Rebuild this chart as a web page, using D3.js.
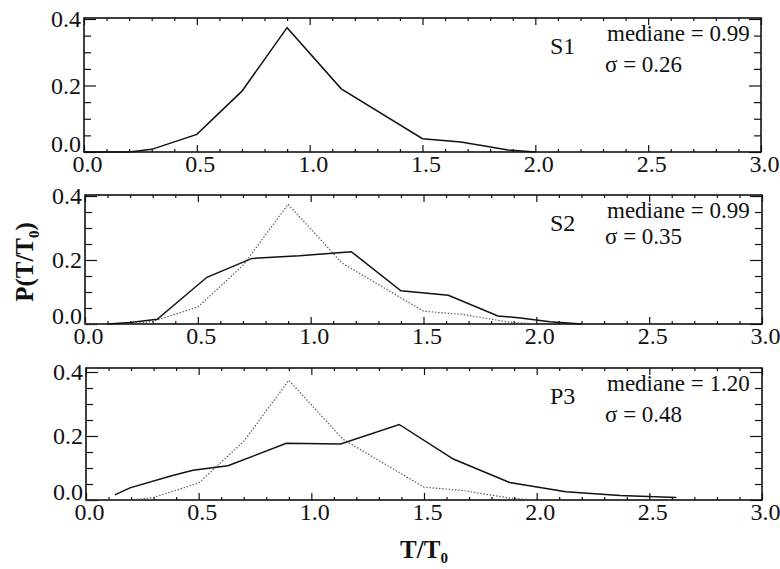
<!DOCTYPE html>
<html>
<head>
<meta charset="utf-8">
<script src="https://cdn.jsdelivr.net/npm/d3@7"></script>
<style>
  body { margin: 0; background: #fff; }
  .axis path { display: none; }
  .axis line { stroke: #111; stroke-width: 1.2; }
</style>
</head>
<body>
<div class="data_figure"></div>
<script>
// reference distribution S1 (also drawn dotted in the other panels)
const s1T = [0.0, 0.2, 0.3, 0.5, 0.7, 0.9, 1.14, 1.5, 1.67, 1.88, 2.0];
const s1P = [0, 0, 0.008, 0.053, 0.183, 0.374, 0.19, 0.04, 0.03, 0.006, 0];

const s2T = [0.1, 0.2, 0.32, 0.54, 0.74, 0.95, 1.18, 1.40, 1.61, 1.83, 1.93, 2.06, 2.2];
const s2P = [0, 0.005, 0.015, 0.146, 0.205, 0.213, 0.226, 0.104, 0.09, 0.025, 0.019, 0.007, 0];

const p3T = [0.128, 0.195, 0.38, 0.475, 0.63, 0.889, 1.13, 1.39, 1.63, 1.88, 2.13, 2.37, 2.62];
const p3P = [0.016, 0.038, 0.076, 0.093, 0.107, 0.177, 0.175, 0.236, 0.128, 0.055, 0.026, 0.014, 0.008];

const panelNames = ["S1", "S2", "P3"];
const medianes = ["0.99", "0.99", "1.20"];
const sigmas = ["0.26", "0.35", "0.48"];

const xTicks = [0, 0.5, 1.0, 1.5, 2.0, 2.5, 3.0];
const yTicks = [0, 0.2, 0.4];

const width = 780, height = 569;
const serif = "'Liberation Serif', 'DejaVu Serif', 'Times New Roman', serif";

// pixel frame of each panel
const frames = [
    {left: 84, right: 761, top: 18, bottom: 152, y04: 19},
    {left: 85, right: 762, top: 195, bottom: 324, y04: 196},
    {left: 86, right: 762, top: 368, bottom: 500, y04: 372},
];

const zip = (t, p) => t.map((d, i) => ({t: d, p: p[i]}));
const s1 = zip(s1T, s1P), s2 = zip(s2T, s2P), p3 = zip(p3T, p3P);
const solids = [s1, s2, p3];

let svg = d3.select(".data_figure")
            .append("svg")
            .attr("width", width)
            .attr("height", height);

const minorX = d3.range(0.1, 3.0, 0.1).filter(v => Math.abs(v*2 - Math.round(v*2)) > 1e-6);
const minorY = [0.05, 0.1, 0.15, 0.25, 0.3, 0.35];

frames.forEach((f, k) => {
    const xScale = d3.scaleLinear().domain([0, 3]).range([f.left, f.right]);
    const yScale = d3.scaleLinear().domain([0, 0.4]).range([f.bottom, f.y04]);

    const g = svg.append("g");

    // bottom axis with labels
    const xb = g.append("g")
        .attr("class", "axis")
        .attr("transform", "translate(0," + f.bottom + ")")
        .call(d3.axisBottom(xScale).tickValues(xTicks).tickSizeInner(-7).tickSizeOuter(0)
              .tickPadding(3).tickFormat(d3.format(".1f")));
    xb.selectAll("text").attr("class", "tick-label").attr("dx", "3");
    g.append("g").attr("class", "axis")
        .attr("transform", "translate(0," + f.bottom + ")")
        .call(d3.axisBottom(xScale).tickValues(minorX).tickSizeInner(-3).tickSizeOuter(0).tickFormat(""));

    // top axis, ticks only
    g.append("g").attr("class", "axis")
        .attr("transform", "translate(0," + f.top + ")")
        .call(d3.axisTop(xScale).tickValues(xTicks).tickSizeInner(-7).tickSizeOuter(0).tickFormat(""));
    g.append("g").attr("class", "axis")
        .attr("transform", "translate(0," + f.top + ")")
        .call(d3.axisTop(xScale).tickValues(minorX).tickSizeInner(-3).tickSizeOuter(0).tickFormat(""));

    // left axis with labels
    const yl = g.append("g")
        .attr("class", "axis")
        .attr("transform", "translate(" + f.left + ",0)")
        .call(d3.axisLeft(yScale).tickValues(yTicks).tickSizeInner(-12).tickSizeOuter(0)
              .tickPadding(3).tickFormat(d3.format(".1f")));
    yl.selectAll("text")
        .attr("class", "tick-label")
        .attr("dy", d => d === 0 ? "-0.02em" : "0.33em");
    g.append("g").attr("class", "axis")
        .attr("transform", "translate(" + f.left + ",0)")
        .call(d3.axisLeft(yScale).tickValues(minorY).tickSizeInner(-7).tickSizeOuter(0).tickFormat(""));

    // right axis, ticks only
    g.append("g").attr("class", "axis")
        .attr("transform", "translate(" + f.right + ",0)")
        .call(d3.axisRight(yScale).tickValues(yTicks).tickSizeInner(-12).tickSizeOuter(0).tickFormat(""));
    g.append("g").attr("class", "axis")
        .attr("transform", "translate(" + f.right + ",0)")
        .call(d3.axisRight(yScale).tickValues(minorY).tickSizeInner(-7).tickSizeOuter(0).tickFormat(""));

    // frame
    g.append("rect")
        .attr("x", f.left).attr("y", f.top)
        .attr("width", f.right - f.left).attr("height", f.bottom - f.top)
        .attr("fill", "none").attr("stroke", "#111").attr("stroke-width", 1.6);

    const line = d3.line().x(d => xScale(d.t)).y(d => yScale(d.p));

    if (k > 0) {
        g.append("path")
            .datum(s1)
            .attr("d", line)
            .attr("fill", "none")
            .attr("stroke", "#555")
            .attr("stroke-width", 1.2)
            .attr("stroke-dasharray", "1.4,1.8");
    }

    g.append("path")
        .datum(solids[k])
        .attr("d", line)
        .attr("fill", "none")
        .attr("stroke", "#111")
        .attr("stroke-width", 1.5);

    // annotations
    g.append("text")
        .attr("class", "name")
        .text(panelNames[k])
        .attr("x", 550).attr("y", f.top + 36);
    g.append("text")
        .attr("class", "note")
        .text("mediane = " + medianes[k])
        .attr("x", 607).attr("y", f.top + 23);
    g.append("text")
        .attr("class", "note")
        .text("\u03c3 = " + sigmas[k])
        .attr("x", 605).attr("y", f.top + (k === 1 ? 49 : 54));
});

// axis titles
svg.append("text")
    .attr("class", "title")
    .attr("transform", "translate(33,262) rotate(-90)")
    .attr("text-anchor", "middle")
    .html("P(T/T<tspan dy='6' font-size='15px'>0</tspan><tspan dy='-6'>)</tspan>");

svg.append("text")
    .attr("class", "title")
    .attr("x", 424).attr("y", 558)
    .attr("text-anchor", "middle")
    .html("T/T<tspan dy='5' font-size='15px'>0</tspan>");

// serif typeface for everything, set directly on the elements
svg.selectAll("text")
    .style("font-family", serif)
    .style("fill", "#111");
svg.selectAll("text.tick-label").style("font-size", "24px");
svg.selectAll("text.note").style("font-size", "23px");
svg.selectAll("text.name").style("font-size", "24px");
svg.selectAll("text.title")
    .style("font-size", "25px")
    .style("font-weight", "bold");
svg.selectAll(".axis").attr("font-family", null);
</script>
</body>
</html>
